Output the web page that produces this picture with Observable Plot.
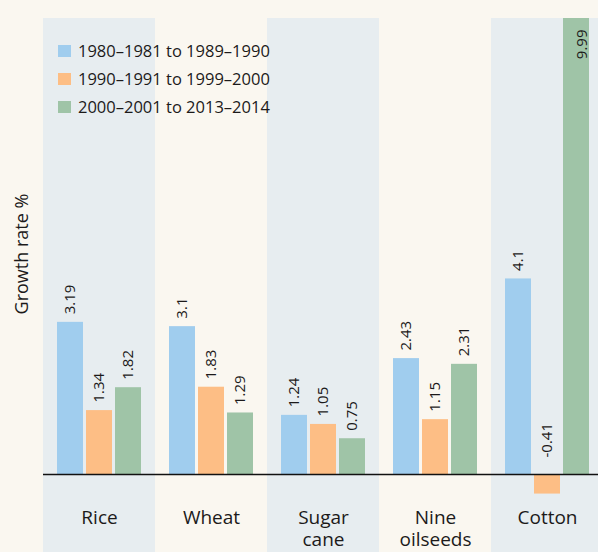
<!DOCTYPE html>
<html><head><meta charset="utf-8">
<script src="https://cdn.jsdelivr.net/npm/d3@7"></script>
<script src="https://cdn.jsdelivr.net/npm/@observablehq/plot@0.6"></script>
<style>
html,body{margin:0;padding:0;background:#faf7f0;}
#wrap{position:relative;width:598px;height:552px;font-family:"Open Sans",sans-serif;color:#1c1a1a;overflow:hidden;}
#wrap svg{display:block;}
.legend{position:absolute;left:58px;top:37px;}
.legend .row{display:flex;align-items:center;height:28px;font-size:16.5px;line-height:1;white-space:nowrap;}
.legend .sw{width:13px;height:12px;margin-right:7px;flex:none;}
.ylab{position:absolute;left:21px;top:254px;transform:translate(-50%,-50%) rotate(-90deg);font-size:18px;white-space:nowrap;}
</style></head><body><div id="wrap"></div>
<script>
const categories = ["Rice", "Wheat", "Sugar cane", "Nine oilseeds", "Cotton"];
const categoryLabels = ["Rice", "Wheat", "Sugar\ncane", "Nine\noilseeds", "Cotton"];
const periods = ["1980–1981 to 1989–1990", "1990–1991 to 1999–2000", "2000–2001 to 2013–2014"];
const values1980s = [3.19, 3.1, 1.24, 2.43, 4.1];
const values1990s = [1.34, 1.83, 1.05, 1.15, -0.41];
const values2000s = [1.82, 1.29, 0.75, 2.31, 9.99];
const shaded = ["Rice", "Sugar cane", "Cotton"];
const colors = ["#a0cdee", "#fdbe85", "#9fc4a7"];
const yDomain = [-1.635, 9.56];

const series = [values1980s, values1990s, values2000s];
const rows = [];
categories.forEach((c, i) => {
  periods.forEach((p, j) => rows.push({category: c, period: p, value: series[j][i]}));
});

const ink = "#1c1a1a";
const chart = Plot.plot({
  width: 598,
  height: 552,
  marginLeft: 43,
  marginRight: -5,
  marginTop: 18,
  marginBottom: 0,
  style: {background: "transparent", fontFamily: "'Open Sans', sans-serif", color: ink},
  fx: {domain: categories, padding: 0, axis: null, label: null},
  x: {domain: periods, paddingInner: 0.1, paddingOuter: 0.4167, axis: null, label: null},
  y: {domain: yDomain, axis: null, label: null},
  color: {domain: periods, range: colors},
  marks: [
    Plot.barY(shaded, {fx: d => d, y1: yDomain[0], y2: yDomain[1], fill: "#e7edf0"}),
    Plot.barY(rows, {fx: "category", x: "period", y: "value", fill: "period", clip: true}),
    Plot.ruleY([0], {stroke: "#111", strokeWidth: 1.5}),
    Plot.text(rows.filter(d => d.value >= 0 && d.value <= yDomain[1]), {
      fx: "category", x: "period", y: "value", text: d => String(d.value),
      rotate: -90, textAnchor: "start", dy: -8, fontSize: 15, fill: ink
    }),
    Plot.text(rows.filter(d => d.value < 0), {
      fx: "category", x: "period", y: 0, text: d => String(d.value),
      rotate: -90, textAnchor: "start", dy: -17, fontSize: 15, fill: ink
    }),
    Plot.text(rows.filter(d => d.value > yDomain[1]), {
      fx: "category", x: "period", frameAnchor: "top", text: d => String(d.value),
      rotate: -90, textAnchor: "end", dy: 11, fontSize: 15, fill: ink
    }),
    Plot.text(categories, {
      fx: d => d, text: (d, i) => categoryLabels[i], frameAnchor: "bottom",
      lineAnchor: "top", dy: -44, lineHeight: 1.15, fontSize: 19, fill: ink
    })
  ]
});

const wrap = document.getElementById("wrap");
wrap.appendChild(chart);

const legend = document.createElement("div");
legend.className = "legend";
periods.forEach((p, j) => {
  const row = document.createElement("div");
  row.className = "row";
  const sw = document.createElement("span");
  sw.className = "sw";
  sw.style.background = colors[j];
  const t = document.createElement("span");
  t.textContent = p;
  row.appendChild(sw);
  row.appendChild(t);
  legend.appendChild(row);
});
wrap.appendChild(legend);

const ylab = document.createElement("div");
ylab.className = "ylab";
ylab.textContent = "Growth rate %";
wrap.appendChild(ylab);
</script>
</body></html>
